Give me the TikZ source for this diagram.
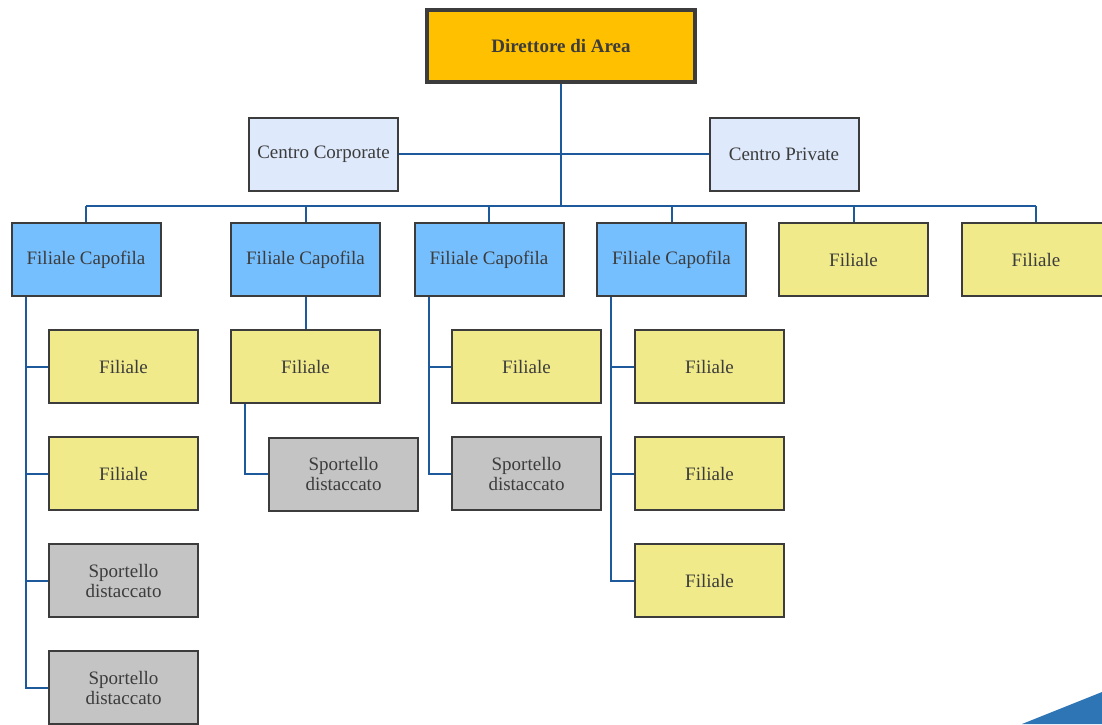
\documentclass[tikz,border=0pt]{standalone}
\usepackage{fontspec}
\newfontfamily\orgfont{Liberation Serif}
\usepackage{tikz}
\usetikzlibrary{positioning,calc}

\definecolor{areagold}{RGB}{255,192,0}
\definecolor{centroblue}{RGB}{222,233,252}
\definecolor{capoblue}{RGB}{117,191,255}
\definecolor{filyellow}{RGB}{240,234,138}
\definecolor{sportgray}{RGB}{196,196,196}
\definecolor{boxline}{RGB}{60,60,60}
\definecolor{linkblue}{RGB}{30,90,155}
\definecolor{cornerblue}{RGB}{46,117,182}

\begin{document}
\begin{tikzpicture}[x=1pt, y=-1pt, node distance=32pt,
        block/.style={draw=boxline, rectangle, line width=2pt, minimum width=149pt, minimum height=73pt,
            align=center, text=boxline, font=\orgfont\fontsize{19}{20}\selectfont},
        director/.style={block, fill=areagold, line width=4pt, minimum width=268pt, minimum height=72pt,
            font=\orgfont\fontsize{19}{20}\selectfont\bfseries},
        centro/.style={block, fill=centroblue},
        capofila/.style={block, fill=capoblue},
        filiale/.style={block, fill=filyellow},
        sportello/.style={block, fill=sportgray},
        link/.style={draw=linkblue, line width=2pt}
    ]
        \useasboundingbox (0,0) rectangle (1102,724);

        \node [director] (dir) at (561,46) {Direttore di Area};
        \node [centro] (corp) at (323.5,154) {Centro Corporate};
        \node [centro] (priv) at (784,154) {Centro Private};
        \coordinate (bus) at (561,206);

        \node [capofila] (cf1) at (86,259.5) {Filiale Capofila};
        \node [capofila] (cf2) at (305.5,259.5) {Filiale Capofila};
        \node [capofila] (cf3) at (489,259.5) {Filiale Capofila};
        \node [capofila] (cf4) at (671.5,259.5) {Filiale Capofila};
        \node [filiale] (f5) at (853.5,259.5) {Filiale};
        \node [filiale] (f6) at (1036,259.5) {Filiale};

        \node [filiale] (f1a) at (123.5,366.5) {Filiale};
        \node [filiale, below=of f1a] (f1b) {Filiale};
        \node [sportello, below=of f1b] (s1a) {Sportello\\distaccato};
        \node [sportello, below=of s1a] (s1b) {Sportello\\distaccato};

        \node [filiale, below=of cf2] (f2a) {Filiale};
        \node [sportello] (s2a) at (343.5,474) {Sportello\\distaccato};

        \node [filiale] (f3a) at (526.5,366.5) {Filiale};
        \node [sportello, below=of f3a] (s3a) {Sportello\\distaccato};

        \node [filiale] (f4a) at (709.5,366.5) {Filiale};
        \node [filiale, below=of f4a] (f4b) {Filiale};
        \node [filiale, below=of f4b] (f4c) {Filiale};

        \draw [link, line width=2.5pt] (dir.south) -- (bus);
        \draw [link] (corp.east) -- (priv.west);
        \draw [link] (cf1.north |- bus) -- (f6.north |- bus);
        \foreach \n in {cf1,cf2,cf3,cf4,f5,f6}
            \draw [link] (\n.north |- bus) -- (\n.north);

        \foreach \n in {f1a,f1b,s1a,s1b}
            \draw [link] ([xshift=15pt]cf1.south west) |- (\n.west);
        \draw [link] (cf2.south) -- (f2a.north);
        \draw [link] ([xshift=15pt]f2a.south west) |- (s2a.west);
        \foreach \n in {f3a,s3a}
            \draw [link] ([xshift=15pt]cf3.south west) |- (\n.west);
        \foreach \n in {f4a,f4b,f4c}
            \draw [link] ([xshift=15pt]cf4.south west) |- (\n.west);

        \fill [cornerblue] (1022,724) -- (1102,692) -- (1102,724) -- cycle; % corner mark
    \end{tikzpicture}
\end{document}
